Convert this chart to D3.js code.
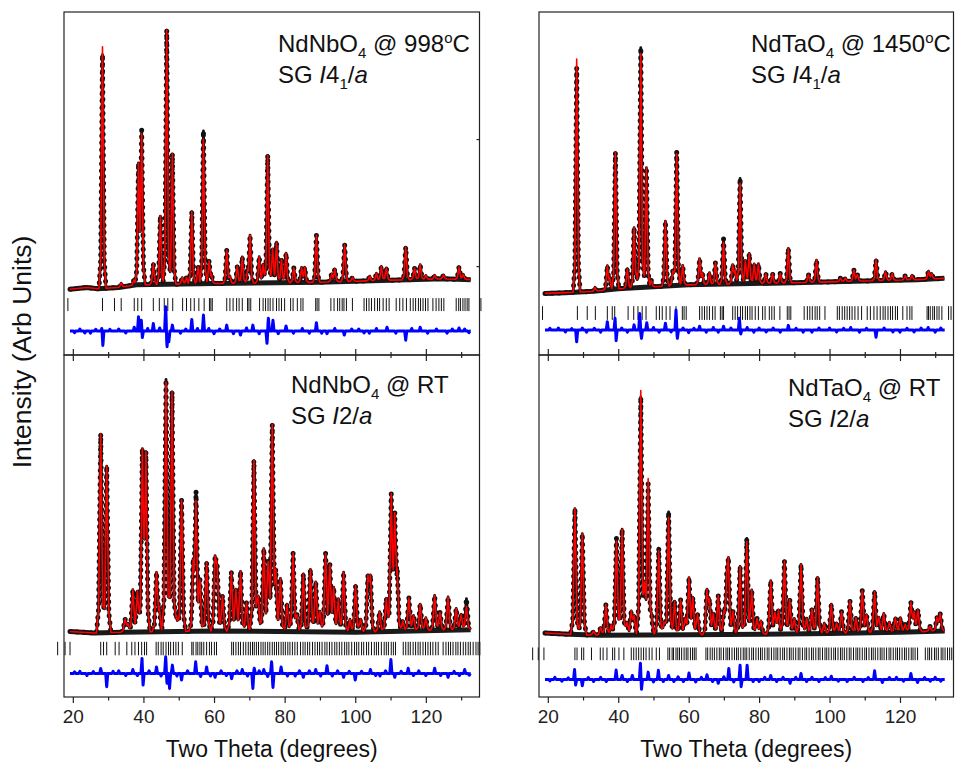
<!DOCTYPE html>
<html>
<head>
<meta charset="utf-8">
<script src="https://cdn.jsdelivr.net/npm/d3@7"></script>
<style>
  body { margin: 0; background: #fff; }
  svg { display: block; font-family: Arial, "Liberation Sans", sans-serif; }
  .frame { fill: none; stroke: #222; stroke-width: 1.2; }
  .axis text { font-size: 19px; fill: #222; font-family: Arial, "Liberation Sans", sans-serif; }
  .axis line { stroke: #222; stroke-width: 1.2; }
  .panel-label { font-size: 24px; fill: #111; }
  .axis-title { font-size: 23px; fill: #111; }
</style>
</head>
<body>
<div id="chart"></div>
<script>
'use strict';

// ---- data (2theta in degrees, intensity in arbitrary units) ----

// NdNbO4 @ 998 C, I4_1/a : [position, calc height, obs height]
const nbHtPeaks = [[28.4, 93, 90], [33.7, 1.5], [37.3, 2], [38.6, 45.5], [39.5, 57, 58.5], [42.8, 8],
  [44.8, 26.3], [46.6, 97.8], [48.2, 50.2], [51.0, 2.5], [52.2, 2.5], [53.7, 27.8], [55.5, 6.7],
  [57.0, 55.6, 58.8], [58.6, 8.6], [59.3, 3], [63.6, 12.8], [64.5, 2.5], [66.6, 6.6], [68.0, 10.1],
  [69.5, 4], [70.2, 18.2], [72.8, 10.1], [73.9, 7.1], [75.2, 49.1], [76.6, 13.1], [77.7, 15.6],
  [79.1, 9], [80.4, 11.4], [82.6, 5.7], [84.8, 5.7], [85.7, 5.7], [89.0, 18.1], [93.3, 3], [94.2, 4.9],
  [97.0, 14.2], [99.2, 1.5], [104.1, 1.8], [106.0, 2.8], [107.4, 5.4], [108.8, 4.8], [114.3, 12.6],
  [116.8, 4.4], [118.4, 5.7], [120.0, 1.5], [122.5, 1.5], [125.0, 1.5], [129.4, 4.8], [130.6, 2]];
const nbHtBackground = [[19.2, 0.3], [24, 1], [27, 0.5], [33, 1], [38, 2], [60, 2.5], [90, 3],
  [110, 3.8], [125, 4.3], [132.7, 4]];
const nbHtReflections = [18.6, 28.4, 31.8, 33.7, 37.4, 38.4, 39.5, 42.8, 44.5, 45.9, 46.9, 48.3, 51.1,
  52.2, 53.4, 54.4, 55.7, 57.2, 58.7, 59.1, 59.5, 63.6, 64.5, 65.4, 66.4, 67.1, 68.0, 69.5, 69.9,
  70.4, 72.9, 73.9, 74.6, 75.3, 75.9, 76.7, 77.7, 78.4, 79.1, 80.0, 81.7, 82.4, 83.6, 84.6, 85.2,
  88.8, 89.2, 89.7, 93.1, 94.0, 95.0, 95.6, 96.3, 96.8, 97.5, 99.2, 102.5, 103.2, 103.9, 104.6,
  105.5, 106.3, 106.9, 107.9, 108.8, 109.6, 111.6, 112.6, 113.5, 114.5, 115.6, 116.4, 117.1, 117.9,
  118.5, 119.2, 119.9, 120.6, 122.0, 122.9, 123.7, 124.4, 125.1, 128.6, 129.3, 129.8, 130.5, 131.1,
  131.7, 132.2, 135.6];
const nbHtDiff = [[20.5, -0.6], [22, 0.8], [23.4, -0.7], [25, -0.8], [26.5, 0.7], [28.3, 1.5],
  [28.5, -6], [30.5, 0.7], [33, 0.8], [35, -0.7], [37.4, 1.5], [38.6, 5.5], [39.4, 4.2], [39.7, -2.5],
  [41.2, 1], [42.8, 2.9], [44.6, 1.2], [46.3, 9.4], [46.7, -6], [47.2, -4.1], [48.2, 2.3], [50.5, -0.8],
  [52, 0.8], [53.7, 4.5], [55.3, 1], [57.0, 6.2], [58.5, 1], [60, -1], [61.6, 0.8], [63.6, 2.3],
  [65.5, -1], [67.5, -1.5], [69.2, 1.2], [71.0, 2.3], [72.8, -1], [75.0, -4.7], [75.4, 4.9],
  [76.7, 4.2], [78.2, -1], [80.4, 2], [82.5, -0.8], [85, 1], [87, -0.8], [89.0, 3.2], [90.5, -0.8],
  [92, -1], [94.2, 1], [96.9, -1.5], [99, 0.8], [101, 0.8], [102.5, -0.7], [104, -0.8], [106, 1],
  [109, 1.5], [111.5, -0.8], [114.3, -3.5], [116, 1], [118.4, 1.5], [120.5, -0.8], [123, 0.8],
  [126, -0.8], [127.5, 0.8], [129.4, 1.2], [131, 0.8], [132.2, -0.6]];

// NdTaO4 @ 1450 C, I4_1/a
const taHtPeaks = [[28.2, 89.7, 86.3], [33.4, 1.5], [36.9, 9], [37.6, 4], [39.2, 52.5], [42.6, 7.5],
  [44.5, 22.9], [45.2, 4], [46.4, 90, 92.3], [48.0, 46], [49.4, 2.5], [53.4, 25], [55.5, 5.7],
  [56.6, 50.7, 51.5], [58.3, 7.6], [63.1, 9.8], [63.9, 4], [65.9, 4.5], [67.6, 8.4], [69.9, 16.1, 17.5],
  [72.5, 7.1], [73.2, 5], [74.6, 38.7, 40.6], [76.1, 9], [77.2, 11.6], [78.6, 7.6], [79.8, 7.6],
  [81.9, 3.7], [83.8, 3.7], [86.0, 3.7], [88.3, 13.3], [94.0, 3.1], [96.3, 8.5], [103.1, 1.3],
  [104.5, 1.3], [106.9, 4.4], [107.9, 2.5], [113.2, 8], [115.9, 3.4], [117.8, 2.6], [121.5, 1.7],
  [123.4, 1.7], [128.1, 3], [129.0, 2]];
const taHtBackground = [[19.2, -1.3], [25, -1], [33, -0.5], [40, 0.5], [60, 2], [90, 2.8],
  [110, 3.5], [125, 4], [132.6, 4.5]];
const taHtReflections = [18.5, 28.4, 31.2, 33.5, 36.9, 38.3, 39.0, 42.8, 44.4, 45.6, 46.8, 47.9,
  50.8, 51.7, 52.5, 53.6, 54.7, 56.4, 58.2, 58.7, 59.3, 63.1, 63.8, 64.5, 65.2, 65.9, 66.8, 67.5,
  69.0, 69.5, 69.9, 72.5, 73.2, 73.9, 74.7, 75.3, 76.1, 76.7, 77.4, 78.0, 78.9, 79.8, 81.0, 81.7,
  82.9, 83.6, 84.3, 85.9, 88.0, 88.5, 89.0, 92.8, 93.7, 94.4, 95.1, 95.9, 96.5, 97.2, 98.7, 102.2,
  102.8, 103.6, 104.3, 105.0, 105.7, 106.4, 107.2, 108.1, 109.1, 110.7, 111.6, 112.6, 113.5, 114.4,
  115.2, 115.8, 116.6, 117.3, 117.9, 118.7, 119.3, 120.8, 122.0, 122.8, 123.4, 127.7, 128.1, 128.6,
  129.3, 129.8, 130.5, 131.1, 131.9, 133.8, 134.5];
const taHtDiff = [[20.6, 0.7], [23, 0.8], [25, -0.7], [26.8, 0.6], [28.2, -4.5], [29.8, 0.8],
  [31, -0.8], [33.2, 0.7], [35, -0.8], [36.9, 3.2], [39.1, 4.5], [39.4, -4.1], [41, 0.8], [42.6, -0.8],
  [44.5, 2], [46.1, 6.4], [46.6, -3.2], [48.1, 2.8], [50, 1], [51.6, -0.8], [53.4, 2.6], [55, -0.7],
  [56.4, 7.7], [56.8, -3.2], [58.4, 0.8], [60, -1], [61.5, 0.7], [63.1, 1.5], [65, -0.8], [67, 1],
  [68.4, -0.8], [69.9, 1.5], [72, 0.8], [74.4, 4.5], [74.8, -1.5], [76.6, 1], [78.5, -0.8], [80, 0.8],
  [82, -0.7], [84, 0.8], [86, -0.8], [88.3, 1.8], [90.5, 0.7], [92.5, -0.8], [95, -0.8], [97, 0.8],
  [100, 0.8], [102, -0.7], [104, 0.7], [106, 1], [108.5, -0.8], [110.5, 0.7], [113.2, -2.8],
  [115.5, 0.8], [118, -0.7], [120, -0.8], [122, 0.7], [124, -0.7], [126, 0.8], [128, 1], [130, -0.8],
  [131.6, 0.8]];

// NdNbO4 @ RT, I2/a
const nbRtPeaks = [[27.9, 76.7], [29.6, 64.3], [34.8, 4.9], [35.6, 3], [37.0, 16.4], [38.3, 15.8],
  [39.7, 68.1], [40.7, 66.8], [43.7, 22.3], [44.5, 8], [46.4, 96.3, 97.3], [48.1, 92.5], [49.4, 6],
  [50.8, 50.8], [54.1, 23.9], [54.9, 48.2, 51.7], [56.0, 19], [57.9, 26.4], [60.3, 26.4], [60.9, 22],
  [62.4, 13.7], [64.9, 22.8], [66.2, 16.2], [67.5, 23.1], [69.2, 11.2], [71.3, 65.9], [72.5, 13.7],
  [74.1, 31.9], [75.3, 27], [76.5, 79], [77.5, 21], [78.8, 20.5], [80.7, 10.6], [82.4, 30.3],
  [83.5, 6], [85.3, 22.3], [87.3, 24.1], [88.8, 19.3], [90.0, 8], [91.6, 30.3], [92.8, 25.8],
  [93.9, 16.8], [95.2, 12.9], [96.7, 23.1], [98.5, 5], [100.1, 18], [101.5, 5], [103.6, 20],
  [104.3, 20], [106.9, 7.7], [108.8, 12.8], [110.2, 51.5], [111.2, 41.8], [111.9, 19.8], [113.5, 4],
  [115.2, 12.8], [116.5, 6], [118.4, 10.3], [120.0, 5], [122.5, 13.5], [124.0, 7], [126.3, 12.8],
  [128.6, 8.3], [130.0, 6], [131.5, 9, 12]];
const nbRtBackground = [[19.2, 0.3], [26, -0.3], [34, 0], [60, 0.5], [100, 0], [132.7, 1]];
const nbRtReflections = [15.7, 17.8, 19.2, 27.9, 28.7, 29.6, 32.0, 33.1, 35.3, 36.7, 37.6, 38.6,
  39.5, 40.3, 40.9, 43.6, 44.2, 45.0, 45.6, 46.4, 47.1, 47.7, 48.5, 49.2, 49.9, 51.0, 53.7, 54.1,
  54.9, 55.4, 56.0, 56.5, 57.1, 57.9, 58.7, 59.3, 60.1, 60.7, 65.0, 65.5, 66.2, 66.9, 67.5, 68.3,
  69.0, 69.7, 70.3, 70.9, 71.4, 72.0, 72.6, 73.3, 73.9, 74.5, 75.2, 75.8, 76.5, 77.1, 77.7, 78.3,
  79.0, 79.6, 80.2, 80.9, 81.5, 82.2, 82.9, 83.6, 84.5, 85.2, 85.8, 86.5, 87.1, 87.9, 88.6, 89.3,
  89.9, 90.6, 91.4, 92.0, 92.7, 93.4, 94.2, 94.8, 95.5, 96.2, 97.0, 97.6, 98.2, 99.0, 99.8, 100.4,
  101.0, 101.8, 102.4, 103.2, 103.8, 104.6, 105.4, 106.0, 106.6, 107.4, 108.2, 108.8, 109.4, 110.2,
  110.8, 111.4, 113.6, 114.3, 115.0, 115.6, 116.4, 117.1, 117.8, 118.4, 119.2, 119.9, 120.6, 121.3,
  122.0, 122.8, 123.5, 124.9, 125.7, 126.4, 127.0, 127.7, 128.5, 129.1, 129.8, 130.6, 131.3, 132.0,
  132.6, 133.4, 134.2, 134.8, 135.3];
const nbRtDiff = [[20.5, 0.6], [22, 0.8], [24, -0.8], [25.8, 0.7], [27.9, 1.9], [29.6, -5.1],
  [31.4, 0.8], [33, 1], [35, -0.8], [37.0, 1.5], [38.3, -0.8], [39.6, 5.8], [39.9, -4.5], [41.6, 1],
  [43.7, 2.5], [45, -1], [46.3, 6.4], [46.7, -3.8], [47.4, -5.8], [48.2, 3.2], [49.5, -1], [50.8, -2.5],
  [52.5, 1], [54.8, 4.5], [56.2, -1.2], [57.9, 2.5], [59, -1], [60.3, -1.5], [62, 1], [63.5, -0.8],
  [65.0, -2], [66.5, 1], [68, 1.5], [69.5, -1], [71.0, -5.8], [71.4, 2], [72.8, 1], [74.1, 1.5],
  [75.2, -1.2], [76.3, 4.5], [76.7, -5.4], [79.0, 2.5], [80.8, -1], [83, -1], [84.2, 1], [85.3, -1.5],
  [87, 1], [88.8, 1.5], [90.2, -1], [92.0, 3], [93.5, -1], [95, 1], [96.7, -1.5], [98.3, 0.8],
  [100.0, -2.5], [101.8, 0.8], [104.3, 1.5], [105.8, -0.8], [107, -1], [108.6, 1], [110.1, 5.4],
  [111.2, -1.5], [113, 0.8], [115.0, 2], [116.5, -0.8], [118, 1], [120, -0.8], [122.5, 2],
  [124.2, -0.8], [126.3, -1.5], [128, 0.8], [129.5, -0.8], [131.0, 1.5], [132.3, -0.7]];

// NdTaO4 @ RT, I2/a
const taRtPeaks = [[27.7, 48.6], [29.8, 39], [33.0, 1.5], [35.0, 3], [36.5, 12], [38.0, 4],
  [39.5, 36.4, 37.5], [41.1, 40.9], [42.5, 5], [43.7, 8.8], [44.5, 7], [46.4, 94.1, 91.6], [47.5, 16.4],
  [48.5, 59.5, 57.5], [49.5, 6], [51.5, 32.6, 33.5], [53.0, 5], [54.3, 45.4, 47.5], [56.0, 13],
  [57.7, 13.6], [59.0, 6], [60.1, 21.7], [61.2, 14], [62.5, 8], [65.2, 16.4], [65.9, 12], [67.0, 8],
  [68.4, 15.1], [70.0, 8], [70.8, 16], [71.3, 25.5], [72.6, 9], [74.6, 26.2], [76.5, 35.8, 37],
  [77.9, 17.1], [79.4, 6], [80.5, 5], [83.3, 20.6], [84.5, 8], [85.5, 9], [87.2, 28.1], [88.7, 13.3],
  [90.0, 6], [91.9, 26.8], [93.5, 6], [95.0, 9.5], [96.6, 21.7], [98.5, 4], [100.5, 11.3], [102.0, 4],
  [103.4, 8.3], [105.8, 12.5], [107.5, 6], [109.3, 16.4], [110.5, 7], [112.8, 15.9], [114.0, 6],
  [115.4, 7.4], [117.0, 4], [118.7, 5.6], [120.1, 5.6], [121.5, 3], [123.1, 11.1], [124.0, 7],
  [125.1, 8.3], [128.5, 2], [130.5, 5], [131.4, 6.6]];
const taRtBackground = [[19.2, -0.3], [26, -0.8], [35, -1.2], [60, -1], [100, -0.5], [120, 0], [132.7, 0.5]];
const taRtReflections = [15.7, 17.3, 18.9, 27.7, 28.3, 29.6, 30.2, 32.4, 34.9, 35.7, 36.8, 38.4,
  39.0, 40.2, 41.6, 43.7, 44.4, 45.1, 45.8, 46.5, 47.2, 47.9, 48.8, 49.6, 50.8, 51.7, 54.1, 54.6,
  55.3, 55.7, 56.4, 56.9, 57.4, 58.0, 58.7, 59.3, 59.8, 60.5, 61.1, 61.6, 62.1, 64.9, 65.4, 66.1,
  66.7, 67.3, 68.0, 68.7, 69.2, 69.9, 70.6, 71.1, 71.6, 72.3, 73.0, 73.6, 74.1, 74.8, 75.5, 76.0,
  76.5, 77.2, 77.9, 78.4, 79.1, 79.8, 80.4, 80.9, 81.6, 82.3, 82.8, 83.5, 84.2, 84.8, 85.3, 86.0,
  86.7, 87.2, 87.9, 88.6, 89.1, 89.7, 90.4, 91.1, 91.6, 92.3, 93.0, 93.5, 94.2, 94.9, 95.4, 96.1,
  96.8, 97.3, 98.0, 98.7, 99.2, 99.8, 100.5, 101.2, 101.7, 102.4, 103.1, 103.6, 104.2, 104.9, 105.6,
  106.1, 106.8, 107.5, 108.0, 108.6, 109.3, 110.0, 110.5, 111.2, 111.9, 112.4, 113.0, 113.7, 114.4,
  114.9, 115.5, 116.2, 116.9, 117.4, 118.1, 118.8, 119.3, 119.9, 120.6, 121.3, 121.8, 122.5, 123.2,
  123.7, 124.3, 125.0, 127.2, 127.9, 128.4, 129.0, 129.8, 130.3, 130.9, 131.7, 132.2, 132.8, 133.5,
  134.1, 134.7];
const taRtDiff = [[20.6, -0.6], [22, 0.8], [24, -0.7], [25.8, 0.6], [27.6, 3.8], [27.9, -2.2],
  [29.8, -2.5], [31.5, 0.7], [33, -0.8], [35, 0.8], [36.6, -0.8], [39.4, 3.6], [41.1, 1.5], [42.6, -0.8],
  [44, 1.5], [46.3, 6.2], [46.6, -3.8], [48.5, 2.8], [50, -1], [51.4, 3.5], [52.8, -0.8], [54.3, 1.5],
  [55.8, -0.8], [57, 1], [58.5, -0.8], [60.1, 2.5], [62, -1], [63.6, 0.8], [65.2, 1.8], [66.8, -0.8],
  [68.4, -1.5], [70, 1], [71.4, 4.2], [72.8, -1], [74.6, 5.5], [74.9, -2.8], [76.6, 5.5], [78.3, -0.8],
  [80, -0.8], [81.6, 0.8], [83.3, 1.5], [85, -0.8], [86.8, 0.8], [88.8, -1.5], [90.4, 0.8], [91.9, 2.3],
  [93.5, -0.8], [95, 0.8], [97, -0.8], [98.8, 0.7], [100.5, 1.2], [102.5, -0.7], [105, -0.8],
  [107, 0.8], [109.5, -0.8], [111, 0.7], [112.8, 3.3], [115.0, -1.2], [117, 0.7], [119, 0.8],
  [121, -0.7], [123.1, 2.3], [125, -1.2], [127, 0.7], [128.6, -0.7], [130, 0.8], [131.6, -0.7]];

const majorTicks = [20, 40, 60, 80, 100, 120];
const minorTicks = [30, 50, 70, 90, 110, 130];
const xDomain = [17.5, 135.2];
const yDomain = [-25, 107];
const diffSpan = [19.2, 132.7];

// ---- layout ----
const width = 955, height = 762;
const colLeft = [64, 539], colRight = [479.5, 953.5];
const rowTop = [12, 355], rowBottom = [355, 697];

const svg = d3.select('#chart').append('svg')
    .attr('width', width)
    .attr('height', height);

const panels = [
    { col: 0, row: 0, peaks: nbHtPeaks, background: nbHtBackground, reflections: nbHtReflections,
      diff: nbHtDiff, peakWidth: 1.0, bragg: [-3.1, -8.1], diffOffset: -15.8,
      label: { x: 278, y: 52, dy: 31,
        line1: [['NdNbO'], ['4', 'sub'], [' @ 998'], ['o', 'sup'], ['C']],
        line2: [['SG '], ['I', 'it'], ['4'], ['1', 'sub'], ['/'], ['a', 'it']] },
      rightTicks: [9.2, 58.1] },
    { col: 1, row: 0, peaks: taHtPeaks, background: taHtBackground, reflections: taHtReflections,
      diff: taHtDiff, peakWidth: 1.0, bragg: [-6.2, -11.5], diffOffset: -15.4,
      label: { x: 751, y: 52, dy: 31,
        line1: [['NdTaO'], ['4', 'sub'], [' @ 1450'], ['o', 'sup'], ['C']],
        line2: [['SG '], ['I', 'it'], ['4'], ['1', 'sub'], ['/'], ['a', 'it']] } },
    { col: 0, row: 1, peaks: nbRtPeaks, background: nbRtBackground, reflections: nbRtReflections,
      diff: nbRtDiff, peakWidth: 1.2, bragg: [-3.7, -8.9], diffOffset: -15.9,
      label: { x: 291, y: 393, dy: 31,
        line1: [['NdNbO'], ['4', 'sub'], [' @ RT']],
        line2: [['SG '], ['I', 'it'], ['2/'], ['a', 'it']] } },
    { col: 1, row: 1, peaks: taRtPeaks, background: taRtBackground, reflections: taRtReflections,
      diff: taRtDiff, peakWidth: 1.2, bragg: [-5.9, -10.8], diffOffset: -18.2,
      label: { x: 788, y: 396, dy: 31,
        line1: [['NdTaO'], ['4', 'sub'], [' @ RT']],
        line2: [['SG '], ['I', 'it'], ['2/'], ['a', 'it']] } }
];

// Sum of peak shapes on the union of their break points
function buildProfile(peaks, background, w, useObs) {
    let bg = d3.scaleLinear()
        .domain(background.map(function (d) { return d[0]; }))
        .range(background.map(function (d) { return d[1]; }))
        .clamp(true);
    let lo = background[0][0], hi = background[background.length - 1][0];
    let shapes = peaks.map(function (p) {
        let h = (useObs && p.length > 2) ? p[2] : p[1];
        return d3.scaleLinear()
            .domain([p[0] - w, p[0] - 0.5 * w, p[0], p[0] + 0.5 * w, p[0] + w])
            .range([0, 0.12 * h, h, 0.12 * h, 0])
            .clamp(true);
    });
    let xs = background.map(function (d) { return d[0]; });
    shapes.forEach(function (s) { xs = xs.concat(s.domain()); });
    xs = Array.from(new Set(xs.filter(function (x) { return x >= lo && x <= hi; }))).sort(d3.ascending);
    return xs.map(function (x) {
        return [x, bg(x) + d3.sum(shapes, function (s) { return s(x); })];
    });
}

function buildDiff(diff, offset) {
    let shapes = diff.map(function (d) {
        return d3.scaleLinear().domain([d[0] - 0.3, d[0], d[0] + 0.3]).range([0, d[1], 0]).clamp(true);
    });
    let xs = diffSpan.slice();
    shapes.forEach(function (s) { xs = xs.concat(s.domain()); });
    xs = Array.from(new Set(xs)).sort(d3.ascending);
    return xs.map(function (x) {
        return [x, offset + d3.sum(shapes, function (s) { return s(x); })];
    });
}

function drawLabel(g, x, y, parts) {
    let t = g.append('text').attr('class', 'panel-label').attr('x', x).attr('y', y);
    let shift = 0;
    parts.forEach(function (p) {
        let target = p[1] === 'sub' ? 6 : (p[1] === 'sup' ? -9 : 0);
        let ts = t.append('tspan').text(p[0]).attr('dy', target - shift);
        if (p[1] === 'sub' || p[1] === 'sup') ts.style('font-size', '15px');
        if (p[1] === 'it') ts.style('font-style', 'italic');
        shift = target;
    });
}

panels.forEach(function (panel) {
    let x = d3.scaleLinear().domain(xDomain).range([colLeft[panel.col], colRight[panel.col]]);
    let yr = panel.row === 0 ? rowTop : rowBottom;
    let y = d3.scaleLinear().domain(yDomain).range([yr[1], yr[0]]);
    let g = svg.append('g');

    let line = d3.line()
        .x(function (d) { return x(d[0]); })
        .y(function (d) { return y(d[1]); });

    let calc = buildProfile(panel.peaks, panel.background, panel.peakWidth, false);
    let obs = buildProfile(panel.peaks, panel.background, panel.peakWidth, true);

    // observed points: dark band on the background plus dotted trace along the profile
    g.append('path')
        .datum(panel.background)
        .attr('d', line)
        .attr('fill', 'none')
        .attr('stroke', '#1a1a1a')
        .attr('stroke-width', 5)
        .attr('stroke-linejoin', 'round');

    g.append('path')
        .datum(obs)
        .attr('d', line)
        .attr('fill', 'none')
        .attr('stroke', '#111')
        .attr('stroke-width', 2.8)
        .attr('stroke-linejoin', 'round');

    g.append('path')
        .datum(obs)
        .attr('d', line)
        .attr('fill', 'none')
        .attr('stroke', '#111')
        .attr('stroke-width', 5)
        .attr('stroke-linecap', 'round')
        .attr('stroke-dasharray', '0 7');

    g.append('path')
        .datum(calc)
        .attr('d', line)
        .attr('fill', 'none')
        .attr('stroke', '#ff0000')
        .attr('stroke-width', 1.6)
        .attr('stroke-linejoin', 'round');

    // Bragg reflection markers
    g.selectAll('.bragg').data(panel.reflections).enter()
        .append('line')
        .attr('class', 'bragg')
        .attr('x1', function (d) { return x(d); })
        .attr('x2', function (d) { return x(d); })
        .attr('y1', y(panel.bragg[0]))
        .attr('y2', y(panel.bragg[1]))
        .attr('stroke', '#111')
        .attr('stroke-width', 1);

    // difference curve
    g.append('path')
        .datum(buildDiff(panel.diff, panel.diffOffset))
        .attr('d', line)
        .attr('fill', 'none')
        .attr('stroke', '#0000ff')
        .attr('stroke-width', 3)
        .attr('stroke-linejoin', 'round');

    // frame
    g.append('rect')
        .attr('class', 'frame')
        .attr('x', x.range()[0])
        .attr('y', yr[0])
        .attr('width', x.range()[1] - x.range()[0])
        .attr('height', yr[1] - yr[0]);

    if (panel.row === 1) {
        let major = g.append('g').attr('class', 'axis')
            .attr('transform', 'translate(0,' + yr[1] + ')')
            .call(d3.axisBottom(x).tickValues(majorTicks).tickSize(6).tickPadding(7).tickSizeOuter(0));
        major.select('.domain').remove();
        let minor = g.append('g').attr('class', 'axis')
            .attr('transform', 'translate(0,' + yr[1] + ')')
            .call(d3.axisBottom(x).tickValues(minorTicks).tickSize(3.5).tickFormat(''));
        minor.select('.domain').remove();

        g.append('text')
            .attr('class', 'axis-title')
            .attr('x', (x.range()[0] + x.range()[1]) / 2)
            .attr('y', 757)
            .attr('text-anchor', 'middle')
            .text('Two Theta (degrees)');
    } else {
        // ticks crossing the shared middle line
        let major = g.append('g').attr('class', 'axis')
            .attr('transform', 'translate(0,' + (yr[1] - 6) + ')')
            .call(d3.axisBottom(x).tickValues(majorTicks).tickSize(12).tickFormat(''));
        major.select('.domain').remove();
        let minor = g.append('g').attr('class', 'axis')
            .attr('transform', 'translate(0,' + (yr[1] - 3) + ')')
            .call(d3.axisBottom(x).tickValues(minorTicks).tickSize(6).tickFormat(''));
        minor.select('.domain').remove();
    }

    if (panel.rightTicks) {
        let right = g.append('g').attr('class', 'axis')
            .attr('transform', 'translate(' + x.range()[1] + ',0)')
            .call(d3.axisLeft(y).tickValues(panel.rightTicks).tickSize(3).tickFormat(''));
        right.select('.domain').remove();
    }

    drawLabel(g, panel.label.x, panel.label.y, panel.label.line1);
    drawLabel(g, panel.label.x, panel.label.y + panel.label.dy, panel.label.line2);
});

svg.append('text')
    .attr('class', 'axis-title')
    .attr('transform', 'translate(31,352) rotate(-90)')
    .attr('text-anchor', 'middle')
    .style('font-size', '26.5px')
    .text('Intensity (Arb Units)');
</script>
</body>
</html>
